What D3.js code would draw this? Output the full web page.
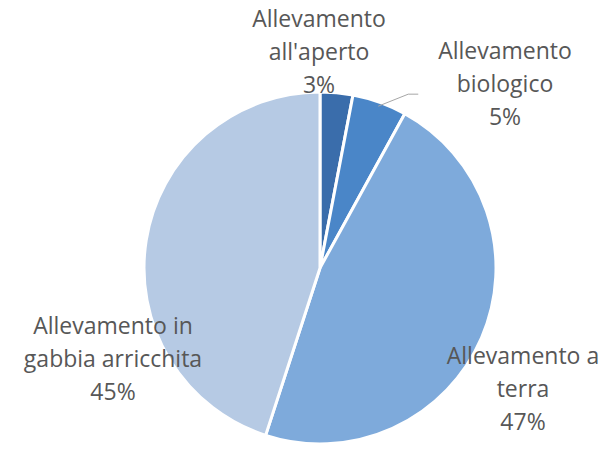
<!DOCTYPE html>
<html>
<head>
<meta charset="utf-8" />
<title>Allevamento</title>
<style>
  body { margin: 0; background: #fff; }
  text { font-family: 'Open Sans', 'Noto Sans', sans-serif; font-size: 23px; fill: #575757; }
</style>
</head>
<body>
<script src="https://cdn.jsdelivr.net/npm/d3@7"></script>
<script>
// data, clockwise from 12 o'clock
var categories = ["Allevamento all'aperto", "Allevamento biologico", "Allevamento a terra", "Allevamento in gabbia arricchita"];
var values = [3, 5, 47, 45];
var colors = ["#3a6dab", "#4a86c8", "#7eaadb", "#b6cae4"];
// how each label breaks into lines
var labelLines = [
  ["Allevamento", "all'aperto"],
  ["Allevamento", "biologico"],
  ["Allevamento a", "terra"],
  ["Allevamento in", "gabbia arricchita"]
];

var width = 605, height = 450;
var cx = 320, cy = 268, r = 176;

// label block anchors (first line baseline), relative to pie centre
var labelPos = [[-1, -241], [185, -209], [203, 96], [-207, 66]];

var svg = d3.select("body").append("svg")
  .attr("width", width)
  .attr("height", height);

var g = svg.append("g").attr("transform", "translate(" + cx + "," + cy + ")");

var pie = d3.pie().sort(null).value(function(d) { return d; });
var arc = d3.arc().innerRadius(0).outerRadius(r);
var arcs = pie(values);

g.selectAll("path")
  .data(arcs)
  .enter().append("path")
  .attr("d", arc)
  .attr("fill", function(d, i) { return colors[i]; })
  .attr("stroke", "#fff")
  .attr("stroke-width", 3)
  .attr("stroke-linejoin", "round");

// leader line for the small "biologico" slice
var a1 = arcs[1];
var mid = (a1.startAngle + a1.endAngle) / 2;
var p0 = [Math.sin(mid) * (r - 4), -Math.cos(mid) * (r - 4)];
g.append("polyline")
  .attr("points", [p0, [p0[0] + 30, p0[1] - 12], [p0[0] + 40, p0[1] - 12]].map(function(p) { return p.join(","); }).join(" "))
  .attr("fill", "none")
  .attr("stroke", "#a6a6a6")
  .attr("stroke-width", 1);

var lineH = 33;
var labels = g.selectAll("text.lbl")
  .data(arcs)
  .enter().append("text")
  .attr("class", "lbl")
  .attr("text-anchor", "middle")
  .attr("x", function(d, i) { return labelPos[i][0]; })
  .attr("y", function(d, i) { return labelPos[i][1]; });

labels.each(function(d, i) {
  var t = d3.select(this);
  var lines = labelLines[i].concat([values[i] + "%"]);
  lines.forEach(function(s, k) {
    t.append("tspan")
      .attr("x", labelPos[i][0])
      .attr("dy", k === 0 ? 0 : lineH)
      .text(s);
  });
});
</script>
</body>
</html>
